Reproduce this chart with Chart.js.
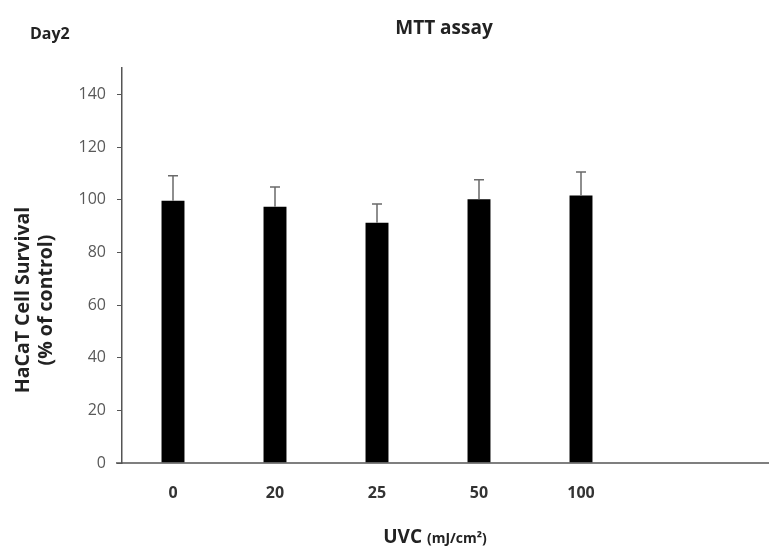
<!DOCTYPE html>
<html lang="en">
  <head>
    <meta charset="UTF-8" />
    <title>MTT assay</title>
    <script src="https://cdn.jsdelivr.net/npm/chart.js"></script>
    <style>
      * {
        margin: 0;
        padding: 0;
        box-sizing: border-box;
      }
      body {
        background: #fff;
        width: 769px;
        height: 554px;
        overflow: hidden;
      }
      #chartBox {
        width: 769px;
        height: 554px;
      }
    </style>
  </head>
  <body>
    <div id="chartBox">
      <canvas id="mttChart"></canvas>
    </div>
    <script>
      // UVC dose (mJ/cm2)
      const doses = ["0", "20", "25", "50", "100"];
      // HaCaT cell survival, % of control (day 2)
      const survival = [99.6, 97.3, 91.2, 100.2, 101.6];
      // upper error bars
      const errors = [9.5, 7.5, 7.2, 7.4, 8.9];
      const yTicks = [0, 20, 40, 60, 80, 100, 120, 140];

      const font = "'Open Sans', sans-serif";

      // error bars + extra labels
      const extras = {
        id: "extras",
        afterDatasetsDraw(chart) {
          const { ctx, scales, chartArea } = chart;
          const x = scales.x;
          const y = scales.y;
          ctx.save();

          // error bars (upper only)
          ctx.strokeStyle = "#6a6a6a";
          ctx.lineWidth = 1.5;
          survival.forEach((v, i) => {
            const cx = x.getPixelForValue(i);
            const top = y.getPixelForValue(v + errors[i]);
            const base = y.getPixelForValue(v);
            ctx.beginPath();
            ctx.moveTo(cx, base);
            ctx.lineTo(cx, top);
            ctx.moveTo(cx - 5, top);
            ctx.lineTo(cx + 5, top);
            ctx.stroke();
          });

          // x axis line running to the edge
          const y0 = y.getPixelForValue(0);
          ctx.strokeStyle = "#555";
          ctx.lineWidth = 1.5;
          ctx.beginPath();
          ctx.moveTo(chartArea.left - 6, y0);
          ctx.lineTo(chart.width, y0);
          ctx.stroke();

          ctx.fillStyle = "#222";
          ctx.textBaseline = "middle";

          // title and panel label
          ctx.textAlign = "center";
          ctx.font = "bold 19px " + font;
          ctx.fillText("MTT assay", 444, 29);
          ctx.textAlign = "left";
          ctx.font = "bold 16px " + font;
          ctx.fillText("Day2", 30, 34);

          // x axis title
          ctx.font = "bold 19px " + font;
          const t1 = "UVC ";
          const w1 = ctx.measureText(t1).width;
          ctx.font = "bold 14px " + font;
          const t2 = "(mJ/cm\u00B2)";
          const w2 = ctx.measureText(t2).width;
          const sx = 435 - (w1 + w2) / 2;
          ctx.font = "bold 19px " + font;
          ctx.fillText(t1, sx, 538);
          ctx.font = "bold 14px " + font;
          ctx.fillText(t2, sx + w1, 539);

          // y axis title (two lines)
          ctx.translate(0, 300);
          ctx.rotate(-Math.PI / 2);
          ctx.textAlign = "center";
          ctx.font = "bold 19.5px " + font;
          ctx.fillText("HaCaT Cell Survival", 0, 23);
          ctx.fillText("(% of control)", 0, 46);
          ctx.restore();
        },
      };

      new Chart(document.getElementById("mttChart"), {
        type: "bar",
        data: {
          labels: doses,
          datasets: [
            {
              label: "Day2",
              data: survival,
              backgroundColor: "#000",
              borderWidth: 0,
              barPercentage: 0.225,
              categoryPercentage: 1,
            },
          ],
        },
        options: {
          responsive: true,
          maintainAspectRatio: false,
          animation: false,
          layout: {
            padding: { left: 0, top: 68, right: 137, bottom: 0 },
          },
          plugins: {
            legend: { display: false },
            tooltip: { enabled: false },
          },
          scales: {
            x: {
              grid: { display: false, drawTicks: false },
              border: { display: false },
              ticks: {
                color: "#333",
                padding: 21,
                font: { family: font, size: 16, weight: "bold" },
              },
              afterFit(scale) {
                scale.height = 91;
              },
            },
            y: {
              min: 0,
              max: 150,
              afterBuildTicks(scale) {
                scale.ticks = yTicks.map((v) => ({ value: v }));
              },
              grid: {
                drawOnChartArea: false,
                tickLength: 5,
                color: "#555",
              },
              border: { display: true, color: "#555", width: 1.5 },
              ticks: {
                color: "#595959",
                padding: 11,
                font: { family: font, size: 16 },
              },
              afterFit(scale) {
                scale.width = 122;
              },
            },
          },
        },
        plugins: [extras],
      });
    </script>
  </body>
</html>
